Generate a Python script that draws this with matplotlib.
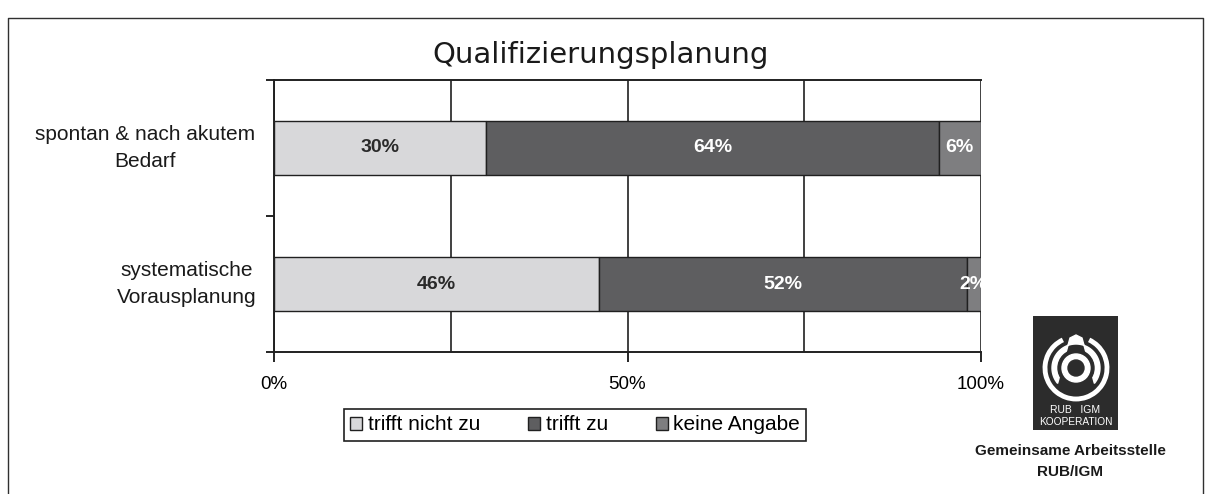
import numpy as np
import matplotlib
matplotlib.use("Agg")
import matplotlib.pyplot as plt
from matplotlib.patches import Rectangle, Circle, Arc, Polygon
from matplotlib.lines import Line2D

plt.rcParams['font.family'] = ['Liberation Sans', 'DejaVu Sans']

# ----------------------------------------------------------------------------
# Data

title = 'Qualifizierungsplanung'
categories = ['systematische\nVorausplanung', 'spontan & nach akutem\nBedarf']
series = ['trifft nicht zu', 'trifft zu', 'keine Angabe']
values = {
    'trifft nicht zu': [46, 30],
    'trifft zu':       [52, 64],
    'keine Angabe':    [2, 6],
}
colors = {
    'trifft nicht zu': '#d8d8da',
    'trifft zu':       '#5e5e60',
    'keine Angabe':    '#7e7e80',
}
label_colors = {
    'trifft nicht zu': '#2a2a2a',
    'trifft zu':       'white',
    'keine Angabe':    'white',
}
x_ticks = [0, 50, 100]
x_tick_labels = ['0%', '50%', '100%']

# ----------------------------------------------------------------------------
# Figure

W, H = 1211, 494
fig = plt.figure(figsize=(W/100, H/100), dpi=100)

def fx(px):
    return px/W

def fy(py):
    return 1 - py/H

ax = fig.add_axes([fx(274), fy(352), fx(981) - fx(274), fy(80) - fy(352)])

y = np.arange(len(categories))
left = np.zeros(len(categories))
for name in series:
    v = np.array(values[name], dtype=float)
    bars = ax.barh(y, v, left=left, height=0.4, color=colors[name],
                   edgecolor='#202020', linewidth=1.0, label=name, zorder=3)
    anns = ax.bar_label(bars, labels=[f'{int(a)}%' for a in v], label_type='center',
                        color=label_colors[name], fontsize=14, fontweight='bold')
    for a in anns:
        a.set_clip_on(True)
        a.set_zorder(4)
    left += v

ax.set_xlim(0, 100)
ax.set_ylim(-0.5, len(categories) - 0.5)

ax.set_xticks(x_ticks)
ax.set_xticklabels(x_tick_labels, fontsize=13.5)
ax.set_xticks([25, 75], minor=True)
ax.tick_params(axis='x', which='major', direction='out', length=7, pad=10, width=1.2)
ax.tick_params(axis='x', which='minor', length=0)
ax.grid(axis='x', which='both', color='#202020', linewidth=1.2, zorder=1)

ax.set_yticks([-0.5, 0.5, 1.5])
ax.set_yticklabels([])
ax.tick_params(axis='y', direction='out', length=6, width=1.2)

for s in ['left', 'top', 'bottom']:
    ax.spines[s].set_linewidth(1.4)
    ax.spines[s].set_color('#202020')
ax.spines['right'].set_visible(False)

# category labels
label_x = [187, 145]
for yi, cat, lx in zip(y, categories, label_x):
    ax.text((lx - 274)/707, yi, cat, transform=ax.get_yaxis_transform(),
            ha='center', va='center', multialignment='center', fontsize=15,
            linespacing=1.55, color='#1a1a1a')

fig.text(fx(601), fy(55), title, ha='center', va='center', fontsize=21,
         family='DejaVu Sans', color='#1a1a1a')

leg = ax.legend(loc='center', bbox_to_anchor=(fx(575), fy(425)), bbox_transform=fig.transFigure,
                ncol=3, fontsize=15, frameon=True, fancybox=False, edgecolor='#202020',
                framealpha=1, handlelength=0.6, handleheight=0.6, handletextpad=0.25,
                columnspacing=2.3, borderpad=0.3)
leg.get_frame().set_linewidth(1.2)

# ----------------------------------------------------------------------------
# Logo

lax = fig.add_axes([fx(1033), fy(430), fx(1118) - fx(1033), fy(316) - fy(430)])
lax.set_xlim(0, 85)
lax.set_ylim(0, 114)
lax.axis('off')
lax.add_patch(Rectangle((0, 0), 85, 114, color='#2c2c2c'))
cx, cy = 43, 62
lax.add_patch(Arc((cx, cy), 62, 62, theta1=115, theta2=65 + 360, color='white', lw=3.5))
t = np.linspace(np.radians(-40), np.radians(220), 60)
drop = np.column_stack([cx + 24*np.cos(t), cy + 24*np.sin(t)])
drop = np.vstack([drop, [[cx - 6, cy + 30], [cx, cy + 33], [cx + 6, cy + 30]]])
lax.add_patch(Polygon(drop, closed=True, color='white'))
lax.add_patch(Circle((cx, cy), 18, color='#2c2c2c'))
lax.add_patch(Circle((cx, cy), 14, color='white'))
lax.add_patch(Circle((cx, cy), 8, color='#2c2c2c'))
lax.text(42.5, 20, 'RUB   IGM', ha='center', va='center', color='white', fontsize=7.5)
lax.text(42.5, 8, 'KOOPERATION', ha='center', va='center', color='white', fontsize=7.3)

fig.text(fx(1070), fy(451), 'Gemeinsame Arbeitsstelle', ha='center', va='center',
         fontsize=11, fontweight='bold', color='#1a1a1a')
fig.text(fx(1070), fy(472), 'RUB/IGM', ha='center', va='center',
         fontsize=11, fontweight='bold', color='#1a1a1a')

# outer frame
fig.add_artist(Line2D([fx(8), fx(8), fx(1203), fx(1203)], [0, fy(18), fy(18), 0],
                      color='#303030', lw=1.0))

fig.savefig('out.png', dpi=100)
